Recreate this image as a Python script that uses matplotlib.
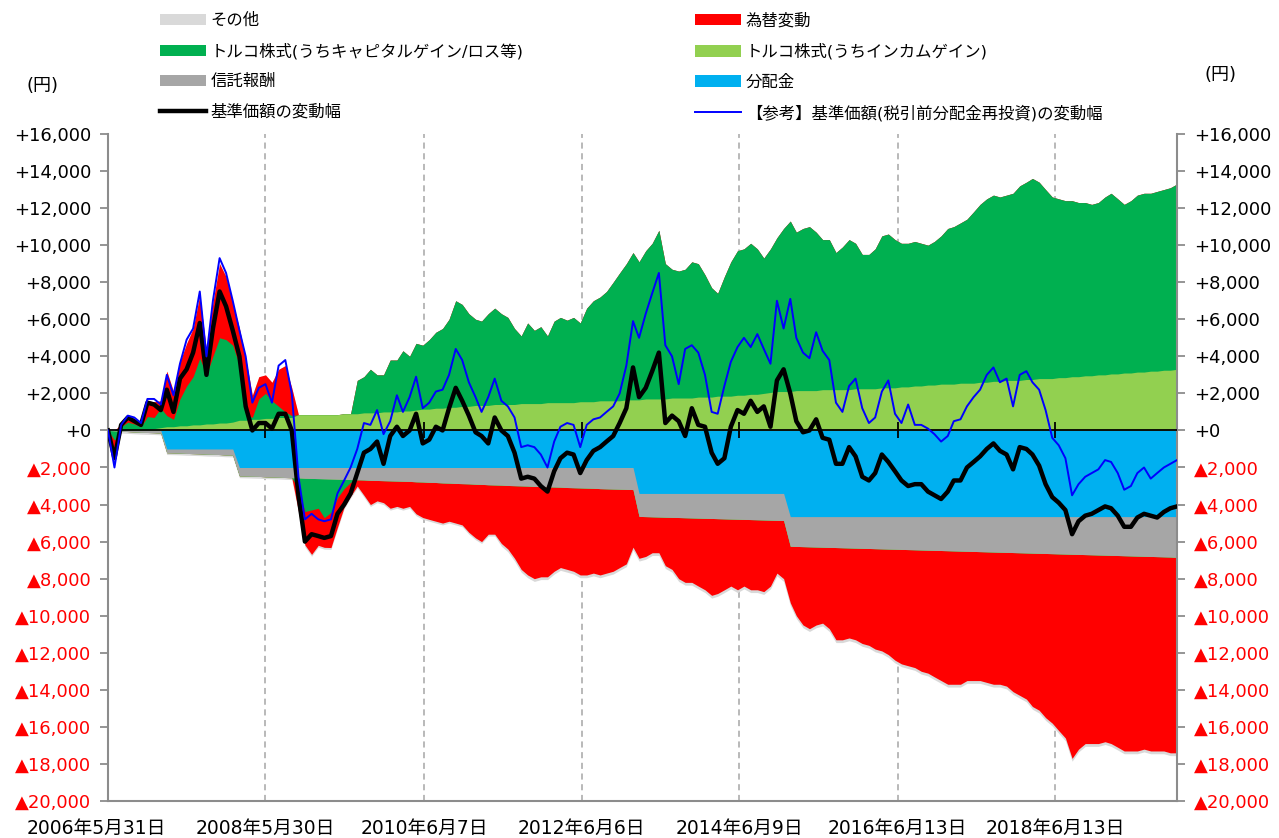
import numpy as np
import pandas as pd
import matplotlib
matplotlib.use("Agg")
import matplotlib.pyplot as plt
import matplotlib.dates as mdates
from matplotlib.patches import Patch
from matplotlib.lines import Line2D
from matplotlib.transforms import ScaledTranslation

plt.rcParams["font.family"] = ["DejaVu Sans", "Noto Sans CJK JP"]

# month-end points, 2006-05 .. 2019-12 (164 points), values in yen
dates = pd.date_range("2006-05-01", periods=164, freq="MS") + pd.offsets.MonthEnd(0)

# 分配金 (cumulative, step)
distribution = [0] * 9 + [-1000] * 11 + [-2000] * 61 + [-3400] * 23 + [-4650] * 60

# 信託報酬
trust_fee = [
    0, -20, -40, -60, -80, -100, -110, -120, -140, -200, -210, -220,
    -240, -250, -260, -280, -290, -300, -320, -330, -450, -460, -470, -480,
    -500, -510, -520, -540, -550, -560, -580, -590, -600, -610, -620, -630,
    -640, -650, -660, -670, -690, -700, -710, -720, -730, -740, -750, -770,
    -780, -800, -810, -830, -840, -860, -870, -880, -900, -910, -930, -940,
    -950, -970, -980, -990, -1000, -1020, -1030, -1040, -1050, -1060, -1080, -1090,
    -1100, -1110, -1120, -1140, -1150, -1160, -1170, -1180, -1190, -1240, -1250, -1260,
    -1270, -1280, -1290, -1300, -1310, -1320, -1330, -1340, -1350, -1360, -1370, -1380,
    -1390, -1400, -1410, -1420, -1430, -1440, -1450, -1460, -1600, -1610, -1620, -1630,
    -1640, -1650, -1660, -1670, -1680, -1690, -1700, -1710, -1720, -1730, -1740, -1750,
    -1760, -1770, -1780, -1790, -1800, -1810, -1820, -1830, -1840, -1850, -1860, -1870,
    -1880, -1890, -1900, -1910, -1920, -1930, -1940, -1950, -1960, -1970, -1980, -1990,
    -2000, -2010, -2020, -2030, -2040, -2050, -2060, -2070, -2080, -2090, -2100, -2110,
    -2120, -2130, -2140, -2150, -2160, -2170, -2180, -2200,
]

# トルコ株式(うちインカムゲイン)
income = [
    0, 0, 0, 50, 50, 50, 50, 100, 150, 200, 200, 250,
    250, 300, 300, 350, 350, 400, 400, 450, 550, 550, 600, 600,
    650, 650, 700, 700, 700, 850, 850, 850, 850, 850, 850, 850,
    900, 900, 900, 950, 950, 950, 1000, 1000, 1000, 1050, 1050, 1100,
    1150, 1150, 1200, 1200, 1250, 1250, 1300, 1300, 1350, 1350, 1350, 1400,
    1400, 1400, 1400, 1450, 1450, 1450, 1450, 1500, 1500, 1500, 1500, 1500,
    1550, 1550, 1550, 1600, 1600, 1600, 1600, 1650, 1650, 1650, 1700, 1700,
    1700, 1700, 1750, 1750, 1750, 1750, 1800, 1800, 1800, 1850, 1850, 1850,
    1900, 1900, 1950, 1950, 2000, 2050, 2100, 2100, 2100, 2150, 2150, 2150,
    2150, 2200, 2200, 2200, 2200, 2200, 2250, 2250, 2250, 2250, 2300, 2300,
    2300, 2350, 2350, 2400, 2400, 2450, 2450, 2500, 2500, 2500, 2550, 2550,
    2550, 2600, 2600, 2650, 2650, 2700, 2700, 2700, 2750, 2750, 2800, 2800,
    2800, 2850, 2850, 2900, 2900, 2950, 2950, 3000, 3000, 3050, 3050, 3100,
    3100, 3150, 3150, 3200, 3200, 3250, 3250, 3300,
]

# トルコ株式(うちキャピタルゲイン/ロス等)
capital = [
    0, -500, 200, 400, 300, 150, 700, 600, 1050, 600, 400, 1450,
    2150, 2600, 3600, 2650, 3650, 4600, 4500, 4150, 2950, 350, 100, 1100,
    1350, 950, 600, 300, 100, -600, -1800, -1700, -1600, -2100, -1800, -1000,
    -500, -150, 1800, 1950, 2350, 2050, 2000, 2800, 2800, 3250, 2950, 3600,
    3450, 3750, 4100, 4300, 4750, 5750, 5500, 5000, 4650, 4550, 4950, 5200,
    4900, 4700, 4100, 3650, 4350, 3950, 4150, 3600, 4400, 4600, 4450, 4600,
    4250, 5050, 5450, 5600, 5900, 6400, 6900, 7350, 7950, 7450, 8000, 8400,
    9100, 7300, 6950, 6850, 6950, 7350, 7200, 6600, 5900, 5550, 6450, 7250,
    7800, 7900, 8150, 7850, 7300, 7750, 8300, 8800, 9200, 8550, 8750, 8850,
    8550, 8100, 8100, 7400, 7700, 8100, 7850, 7250, 7250, 7550, 8200, 8300,
    8000, 7750, 7750, 7800, 7700, 7550, 7750, 8000, 8400, 8500, 8650, 8850,
    9250, 9600, 9900, 10050, 9950, 10000, 10100, 10500, 10650, 10850, 10600, 10200,
    9800, 9650, 9550, 9500, 9400, 9350, 9250, 9300, 9600, 9750, 9450, 9100,
    9300, 9550, 9650, 9600, 9700, 9750, 9850, 10000,
]

# 為替変動
fx_change = [
    0, -900, 150, 350, 250, 200, 850, 850, 400, 2400, 1500, 2000,
    2300, 2600, 3400, 1300, 2900, 4000, 3400, 2300, 2000, 3000, 1200, 1200,
    1000, 1000, 2000, 2500, 1500, -1200, -1800, -2400, -2000, -1600, -1900, -1600,
    -1000, -750, -340, -830, -1310, -1100, -1190, -1480, -1370, -1460, -1350, -1730,
    -1920, -2000, -2090, -2170, -2060, -2140, -2230, -2620, -2900, -3090, -2670, -2660,
    -3150, -3430, -3920, -4510, -4800, -4980, -4870, -4860, -4550, -4340, -4420, -4510,
    -4700, -4690, -4580, -4660, -4550, -4440, -4230, -4020, -3110, -2260, -2150, -1940,
    -1930, -2620, -2810, -3300, -3490, -3480, -3670, -3860, -4150, -4040, -3830, -3620,
    -3810, -3600, -3790, -3780, -3870, -3560, -2850, -3140, -3050, -3740, -4230, -4420,
    -4210, -4100, -4390, -4980, -4970, -4860, -4950, -5140, -5230, -5420, -5510, -5700,
    -5990, -6180, -6270, -6360, -6550, -6640, -6830, -7020, -7210, -7200, -7190, -6980,
    -6970, -6960, -7050, -7140, -7130, -7220, -7510, -7700, -7890, -8280, -8470, -8860,
    -9150, -9540, -9930, -11020, -10510, -10200, -10190, -10180, -10070, -10160, -10350, -10540,
    -10530, -10520, -10410, -10500, -10490, -10480, -10570, -10550,
]

# その他
other = [-100] * 60 + [-150] * 104

# 基準価額の変動幅
nav_change = [
    0, -1500, 300, 700, 500, 300, 1500, 1400, 1100, 2200, 1000, 2800,
    3300, 4200, 5800, 3000, 5500, 7500, 6700, 5400, 4000, 1300, 0, 400,
    400, 100, 900, 900, 0, -3500, -6000, -5600, -5700, -5800, -5700, -4500,
    -4000, -3400, -2300, -1200, -1000, -600, -1800, -300, 200, -300, 0, 900,
    -700, -500, 200, 0, 1200, 2300, 1600, 800, -100, -300, -700, 700,
    0, -300, -1200, -2600, -2500, -2600, -3000, -3300, -2200, -1500, -1200, -1300,
    -2300, -1600, -1100, -900, -600, -300, 400, 1200, 3400, 1800, 2300, 3200,
    4200, 400, 800, 500, -300, 1200, 300, 200, -1200, -1800, -1500, 200,
    1100, 900, 1600, 1000, 1300, 200, 2700, 3300, 2000, 500, -100, 0,
    600, -400, -500, -1800, -1800, -900, -1400, -2500, -2700, -2300, -1300, -1700,
    -2200, -2700, -3000, -2900, -2900, -3300, -3500, -3700, -3300, -2700, -2700, -2000,
    -1700, -1400, -1000, -700, -1100, -1300, -2100, -900, -1000, -1300, -1900, -2900,
    -3600, -3900, -4300, -5600, -4900, -4600, -4500, -4300, -4100, -4200, -4600, -5200,
    -5200, -4700, -4500, -4600, -4700, -4400, -4200, -4100,
]

# 【参考】基準価額(税引前分配金再投資)の変動幅
nav_reinvest = [
    0, -2000, 300, 800, 700, 400, 1700, 1700, 1400, 3000, 1900, 3600,
    4900, 5500, 7500, 4000, 7000, 9300, 8500, 7000, 5400, 4000, 1500, 2300,
    2500, 1500, 3500, 3800, 2000, -2500, -4800, -4500, -4800, -4900, -4800, -3400,
    -2700, -2000, -1000, 400, 300, 1100, -200, 500, 1900, 1000, 1800, 2900,
    1200, 1500, 2100, 2200, 3000, 4400, 3800, 2600, 1800, 1000, 1800, 2800,
    1600, 1300, 700, -900, -800, -900, -1300, -2000, -600, 200, 400, 300,
    -900, 300, 600, 700, 1000, 1300, 2000, 3500, 5900, 5000, 6300, 7400,
    8500, 4600, 4000, 2500, 4400, 4600, 4200, 3000, 1000, 900, 2400, 3700,
    4500, 5000, 4500, 5200, 4400, 3600, 7000, 5500, 7100, 5000, 4200, 3900,
    5300, 4300, 3800, 1500, 1000, 2400, 2800, 1200, 400, 700, 2100, 2700,
    900, 400, 1400, 300, 300, 100, -200, -600, -300, 500, 600, 1300,
    1800, 2200, 3000, 3400, 2600, 2800, 1300, 3000, 3200, 2600, 2200, 1100,
    -400, -800, -1500, -3500, -2900, -2500, -2300, -2100, -1600, -1700, -2300, -3200,
    -3000, -2300, -2000, -2600, -2300, -2000, -1800, -1600,
]

tick_dates = ["2006-05-31", "2008-05-30", "2010-06-07", "2012-06-06",
              "2014-06-09", "2016-06-13", "2018-06-13"]
tick_labels = ["2006年5月31日", "2008年5月30日", "2010年6月7日", "2012年6月6日",
               "2014年6月9日", "2016年6月13日", "2018年6月13日"]

COLORS = {
    "other": "#d9d9d9", "fx": "#ff0000", "capital": "#00b050",
    "income": "#92d050", "fee": "#a6a6a6", "dist": "#00b0f0",
}


def ytick_text(v):
    if v > 0:
        return "+{:,}".format(v)
    if v == 0:
        return "+0"
    return "▲{:,}".format(-v)


def main():
    fig = plt.figure(figsize=(12.79, 8.38), dpi=100)
    ax = fig.add_axes([108 / 1279, 1 - 801 / 838, (1177 - 108) / 1279, (801 - 134) / 838])

    x = mdates.date2num(dates.to_pydatetime())

    # stacked like an Excel column chart: positives up, negatives down
    layers = [
        (distribution, COLORS["dist"]),
        (trust_fee, COLORS["fee"]),
        (income, COLORS["income"]),
        (capital, COLORS["capital"]),
        (fx_change, COLORS["fx"]),
        (other, COLORS["other"]),
    ]
    vals = np.array([v for v, _ in layers], dtype=float)
    assert vals.shape == (6, len(dates))
    pos_cum = np.cumsum(np.clip(vals, 0, None), axis=0)
    neg_cum = np.cumsum(np.clip(vals, None, 0), axis=0)
    for i in range(len(layers) - 1, -1, -1):
        color = layers[i][1]
        ax.fill_between(x, 0, pos_cum[i], color=color, lw=0, zorder=1)
        ax.fill_between(x, 0, neg_cum[i], color=color, lw=0, zorder=1)

    ax.axhline(0, color="black", lw=1.3, zorder=3)
    tx = mdates.date2num(pd.to_datetime(tick_dates).to_pydatetime())
    ax.plot(tx[1:], np.zeros(len(tx) - 1), ls="none", marker="|", ms=11,
            mew=1.3, color="black", zorder=3)

    ax.plot(x, nav_change, color="black", lw=3.2, zorder=4)
    ax.plot(x, nav_reinvest, color="#0000ff", lw=1.4, zorder=5)

    ax.set_xlim(mdates.date2num(pd.Timestamp("2006-05-31")),
                mdates.date2num(pd.Timestamp("2019-12-31")))
    ax.set_ylim(-20000, 16000)

    yticks = list(range(-20000, 16001, 2000))
    ax.set_yticks(yticks, [ytick_text(v) for v in yticks])
    ax.tick_params(axis="y", which="both", direction="out", length=6, width=1.3,
                   color="#8c8c8c", labelsize=13, pad=6, right=True, labelright=True)
    for t, v in zip(ax.yaxis.get_major_ticks(), yticks):
        c = "#ff0000" if v < 0 else "black"
        t.label1.set_color(c)
        t.label2.set_color(c)

    ax.set_xticks(tx, tick_labels)
    ax.tick_params(axis="x", length=0, labelsize=13.5, pad=13)
    first = ax.get_xticklabels()[0]
    first.set_transform(first.get_transform() + ScaledTranslation(-0.12, 0, fig.dpi_scale_trans))

    ax.grid(axis="x", color="#a6a6a6", linestyle=(0, (4, 3)), lw=1.1)
    ax.grid(axis="y", visible=False)
    ax.set_axisbelow(True)

    for side in ["left", "right", "bottom"]:
        ax.spines[side].set_color("#8c8c8c")
        ax.spines[side].set_linewidth(1.5)
    ax.spines["top"].set_visible(False)

    fig.text(42 / 1279, 1 - 86 / 838, "(円)", fontsize=13, ha="center", va="center")
    fig.text(1220 / 1279, 1 - 75 / 838, "(円)", fontsize=13, ha="center", va="center")

    left_items = [
        (Patch(facecolor=COLORS["other"]), "その他"),
        (Patch(facecolor=COLORS["capital"]), "トルコ株式(うちキャピタルゲイン/ロス等)"),
        (Patch(facecolor=COLORS["fee"]), "信託報酬"),
        (Line2D([], [], color="black", lw=3.2), "基準価額の変動幅"),
    ]
    right_items = [
        (Patch(facecolor=COLORS["fx"]), "為替変動"),
        (Patch(facecolor=COLORS["income"]), "トルコ株式(うちインカムゲイン)"),
        (Patch(facecolor=COLORS["dist"]), "分配金"),
        (Line2D([], [], color="#0000ff", lw=1.4), "【参考】基準価額(税引前分配金再投資)の変動幅"),
    ]
    for items, x0 in [(left_items, 160), (right_items, 695)]:
        fig.legend([h for h, _ in items], [l for _, l in items],
                   loc="upper left", bbox_to_anchor=(x0 / 1279, 1 - 13 / 838),
                   frameon=False, fontsize=11.8, borderpad=0, borderaxespad=0,
                   handlelength=2.8, handletextpad=0.3, labelspacing=0.9)

    fig.savefig("out.png", dpi=100)
    plt.close(fig)


if __name__ == "__main__":
    main()
